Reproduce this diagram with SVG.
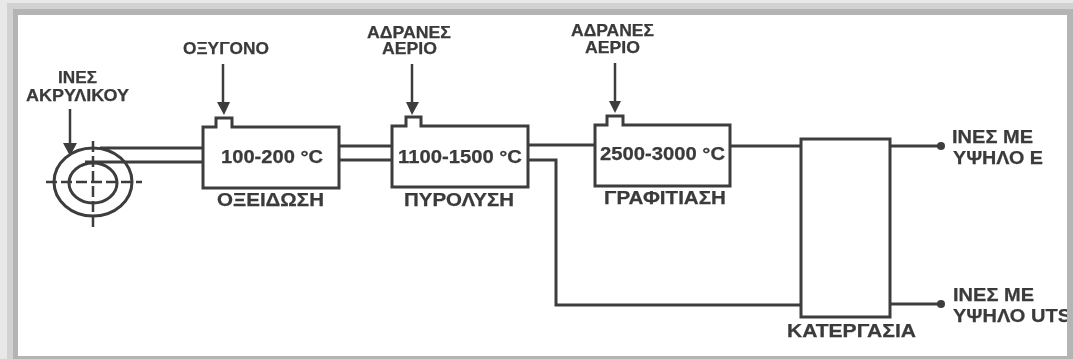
<svg xmlns="http://www.w3.org/2000/svg" width="1073" height="359" viewBox="0 0 1073 359">
<style>
.b{fill:#fff;stroke:#3c3c3c;stroke-width:3}
.c{fill:none;stroke:#3c3c3c;stroke-width:3}
.d{stroke-dasharray:11 4;stroke-width:2.5}
.a{fill:none;stroke:#3c3c3c;stroke-width:2.5}
.h{fill:#3c3c3c}
text{font-family:"Liberation Sans",Arial,sans-serif;font-weight:bold;fill:#3a3a3a;stroke:#3a3a3a;stroke-width:.25;text-anchor:start}
.s{font-size:16.5px}
.m{font-size:18px}
.l{font-size:18.5px}
.t{font-size:18px}
</style>
<defs><filter id="soft" x="-2%" y="-2%" width="104%" height="104%"><feGaussianBlur stdDeviation="0.45"/></filter></defs>
<g id="frame">
<rect width="1073" height="359" fill="#b4b4b4"/>
<rect x="0" y="0" width="1073" height="3" fill="#e8e8e8"/>
<rect x="0" y="3" width="1073" height="6" fill="#d2d2d2"/>
<rect x="0" y="0" width="7" height="359" fill="#e8e8e8"/>
<rect x="7" y="3" width="6" height="356" fill="#d2d2d2"/>
<rect x="18" y="15" width="1049" height="341" fill="#fff"/>
</g>
<g filter="url(#soft)">
<g id="connectors">
<path class="c" d="M100 148H203M85 162H203"/>
<path class="c" d="M339 146H392M339 160H392"/>
<path class="c" d="M528 145H595"/>
<path class="c" d="M528 160H556V305H801"/>
<path class="c" d="M730 146H801"/>
<path class="c" d="M890 146H941"/>
<path class="c" d="M890 304H941"/>
<circle class="h" cx="941" cy="146" r="4"/>
<circle class="h" cx="941" cy="304" r="4"/>
<path class="a" d="M70 109V146"/><path class="h" d="M63 143H77L70 156Z"/>
<path class="a" d="M223 64V106"/><path class="h" d="M217 102H230L224 115Z"/>
<path class="a" d="M412 64V105"/><path class="h" d="M406 102H419L412 115Z"/>
<path class="a" d="M615 63V103"/><path class="h" d="M609 101H621L615 113Z"/>
</g>
<g id="spool">
<ellipse class="c" cx="93" cy="182" rx="39" ry="34"/>
<ellipse class="c" cx="93" cy="183" rx="24" ry="20"/>
<path class="c d" d="M46 182H142M93 141V228"/>
</g>
<g id="oxidation">
<path class="b" d="M203 127H216V118H232V127H339V188H203Z"/>
<text class="t" x="221" y="163" textLength="102" lengthAdjust="spacingAndGlyphs">100-200 °C</text>
<text class="m" x="217" y="206" textLength="107" lengthAdjust="spacingAndGlyphs">ΟΞΕΙΔΩΣΗ</text>
</g>
<g id="pyrolysis">
<path class="b" d="M392 126H406V117H421V126H528V187H392Z"/>
<text class="t" x="398" y="163" textLength="124" lengthAdjust="spacingAndGlyphs">1100-1500 °C</text>
<text class="m" x="404" y="206" textLength="110" lengthAdjust="spacingAndGlyphs">ΠΥΡΟΛΥΣΗ</text>
</g>
<g id="graphitization">
<path class="b" d="M595 125H607V116H623V125H730V186H595Z"/>
<text class="t" x="600" y="160" textLength="125" lengthAdjust="spacingAndGlyphs">2500-3000 °C</text>
<text class="m" x="604" y="204" textLength="122" lengthAdjust="spacingAndGlyphs">ΓΡΑΦΙΤΙΑΣΗ</text>
</g>
<g id="processing">
<rect class="b" x="801" y="139" width="89" height="178"/>
<text class="m" x="787" y="337" textLength="129" lengthAdjust="spacingAndGlyphs">ΚΑΤΕΡΓΑΣΙΑ</text>
</g>
<g id="labels">
<text class="s" x="183" y="54" textLength="86" lengthAdjust="spacingAndGlyphs">ΟΞΥΓΟΝΟ</text>
<text class="s" x="58" y="83" textLength="39" lengthAdjust="spacingAndGlyphs">ΙΝΕΣ</text>
<text class="s" x="26" y="101" textLength="103" lengthAdjust="spacingAndGlyphs">ΑΚΡΥΛΙΚΟΥ</text>
<text class="s" x="367" y="38" textLength="84" lengthAdjust="spacingAndGlyphs">ΑΔΡΑΝΕΣ</text>
<text class="s" x="382" y="54" textLength="55" lengthAdjust="spacingAndGlyphs">ΑΕΡΙΟ</text>
<text class="s" x="571" y="36" textLength="83" lengthAdjust="spacingAndGlyphs">ΑΔΡΑΝΕΣ</text>
<text class="s" x="585" y="53" textLength="55" lengthAdjust="spacingAndGlyphs">ΑΕΡΙΟ</text>
<text class="l" x="952" y="143" textLength="81" lengthAdjust="spacingAndGlyphs">ΙΝΕΣ ΜΕ</text>
<text class="l" x="953" y="164" textLength="90" lengthAdjust="spacingAndGlyphs">ΥΨΗΛΟ Ε</text>
<text class="l" x="953" y="301" textLength="81" lengthAdjust="spacingAndGlyphs">ΙΝΕΣ ΜΕ</text>
<text class="l" x="953" y="322" textLength="118" lengthAdjust="spacingAndGlyphs">ΥΨΗΛΟ UTS</text>
</g>
</g>
<rect x="1067" y="15" width="6" height="344" fill="#b4b4b4"/>
</svg>
